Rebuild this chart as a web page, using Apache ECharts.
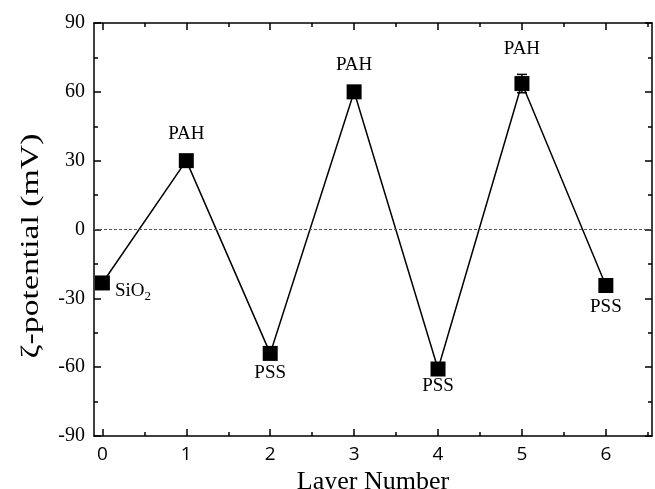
<!DOCTYPE html>
<html>
<head>
<meta charset="utf-8">
<script src="https://cdn.jsdelivr.net/npm/echarts@6/dist/echarts.min.js"></script>
<style>
  html, body { margin: 0; padding: 0; background: #fff; }
  #chart { width: 655px; height: 489px; }
</style>
</head>
<body>
<div id="chart"></div>
<script>
// 数据
const layers = [0, 1, 2, 3, 4, 5, 6];
const zeta = [-23.3, 30, -54, 60, -60.8, 63.6, -24.4];
const zetaErr = [2, 2, 2, 2, 2, 4, 2];
const layerNames = ['SiO2', 'PAH', 'PSS', 'PAH', 'PSS', 'PAH', 'PSS'];
const xMajorTicks = [0, 1, 2, 3, 4, 5, 6];
const xMinorTicks = [0.5, 1.5, 2.5, 3.5, 4.5, 5.5, 6.5];

// 标签与点的距离（样式）
const labelDist = [0, 10, 3, 10, 0, 18, 5];

const serif = '"Liberation Serif", "DejaVu Serif", serif';
const sans = '"Open Sans", "Liberation Sans", sans-serif';

function labelOf(name, i) {
  if (name === 'SiO2') {
    return { show: true, position: 'right', distance: 5, offset: [0, 8], formatter: 'SiO{sub|2}',
      rich: { sub: { fontSize: 13, fontFamily: serif, color: '#000', padding: [12, 0, 0, 0] } } };
  }
  if (name === 'PAH') return { show: true, position: 'top', distance: labelDist[i], formatter: name };
  return { show: true, position: 'bottom', distance: labelDist[i], formatter: name };
}

const points = layers.map((x, i) => ({ value: [x, zeta[i]], label: labelOf(layerNames[i], i) }));
const errData = layers.map((x, i) => [x, zeta[i] - zetaErr[i], zeta[i] + zetaErr[i]]);

const lineStyle = { color: '#000', width: 1.5 };
const xBase = { type: 'value', min: -0.1, max: 6.55, splitLine: { show: false } };

function xAxisOf(pos, major) {
  return Object.assign({}, xBase, {
    position: pos,
    axisLine: { show: major, onZero: false, lineStyle: lineStyle },
    axisTick: { inside: true, length: major ? 7 : 4, customValues: major ? xMajorTicks : xMinorTicks, lineStyle: lineStyle },
    axisLabel: { show: false },
  });
}

const bottomAxis = xAxisOf('bottom', true);
bottomAxis.name = 'Layer Number';
bottomAxis.nameLocation = 'middle';
bottomAxis.nameGap = 33;
bottomAxis.nameTextStyle = { fontFamily: serif, fontSize: 26, color: '#000' };
bottomAxis.axisLabel = { show: true, customValues: xMajorTicks, fontFamily: sans, fontSize: 19, color: '#000', margin: 9 };

function yAxisOf(pos) {
  return {
    type: 'value', min: -90, max: 90, interval: 30, position: pos,
    splitLine: { show: false },
    axisLine: { show: true, onZero: false, lineStyle: lineStyle },
    axisTick: { inside: true, length: 7, lineStyle: lineStyle },
    minorTick: { show: true, splitNumber: 2, length: 4, lineStyle: lineStyle },
    axisLabel: pos === 'left'
      ? { fontFamily: serif, fontSize: 20, color: '#000', margin: 9 }
      : { show: false },
  };
}

let chart = echarts.init(document.getElementById('chart'));
chart.setOption({
  animation: false,
  grid: { left: 94, right: 3, top: 23, bottom: 53, outerBoundsMode: 'none' },
  xAxis: [bottomAxis, xAxisOf('bottom', false), xAxisOf('top', true), xAxisOf('top', false)],
  yAxis: [yAxisOf('left'), yAxisOf('right')],
  graphic: [
    {
      // Y轴标题
      type: 'text',
      x: 31, y: 246,
      rotation: Math.PI / 2,
      scaleX: 1.35,
      style: {
        text: 'ζ-potential (mV)',
        font: '25px ' + serif,
        fill: '#000',
        textAlign: 'center',
        textVerticalAlign: 'middle',
      },
    },
  ],
  series: [
    {
      type: 'line',
      data: points,
      symbol: 'rect',
      symbolSize: 15,
      itemStyle: { color: '#000' },
      lineStyle: lineStyle,
      label: { color: '#000', fontFamily: serif, fontSize: 19 },
      markLine: {
        silent: true,
        symbol: 'none',
        label: { show: false },
        lineStyle: { color: '#555', type: [3, 2], width: 1 },
        data: [{ yAxis: 0 }],
      },
      z: 3,
    },
    {
      // 误差棒
      type: 'custom',
      data: errData,
      renderItem: function(params, api) {
        const x = api.coord([api.value(0), 0])[0];
        const lo = api.coord([0, api.value(1)])[1];
        const hi = api.coord([0, api.value(2)])[1];
        const w = 5;
        const style = { stroke: '#000', lineWidth: 1.5 };
        return {
          type: 'group',
          children: [
            { type: 'line', shape: { x1: x, y1: lo, x2: x, y2: hi }, style: style },
            { type: 'line', shape: { x1: x - w, y1: lo, x2: x + w, y2: lo }, style: style },
            { type: 'line', shape: { x1: x - w, y1: hi, x2: x + w, y2: hi }, style: style },
          ],
        };
      },
      z: 2,
    },
  ],
});
</script>
</body>
</html>
